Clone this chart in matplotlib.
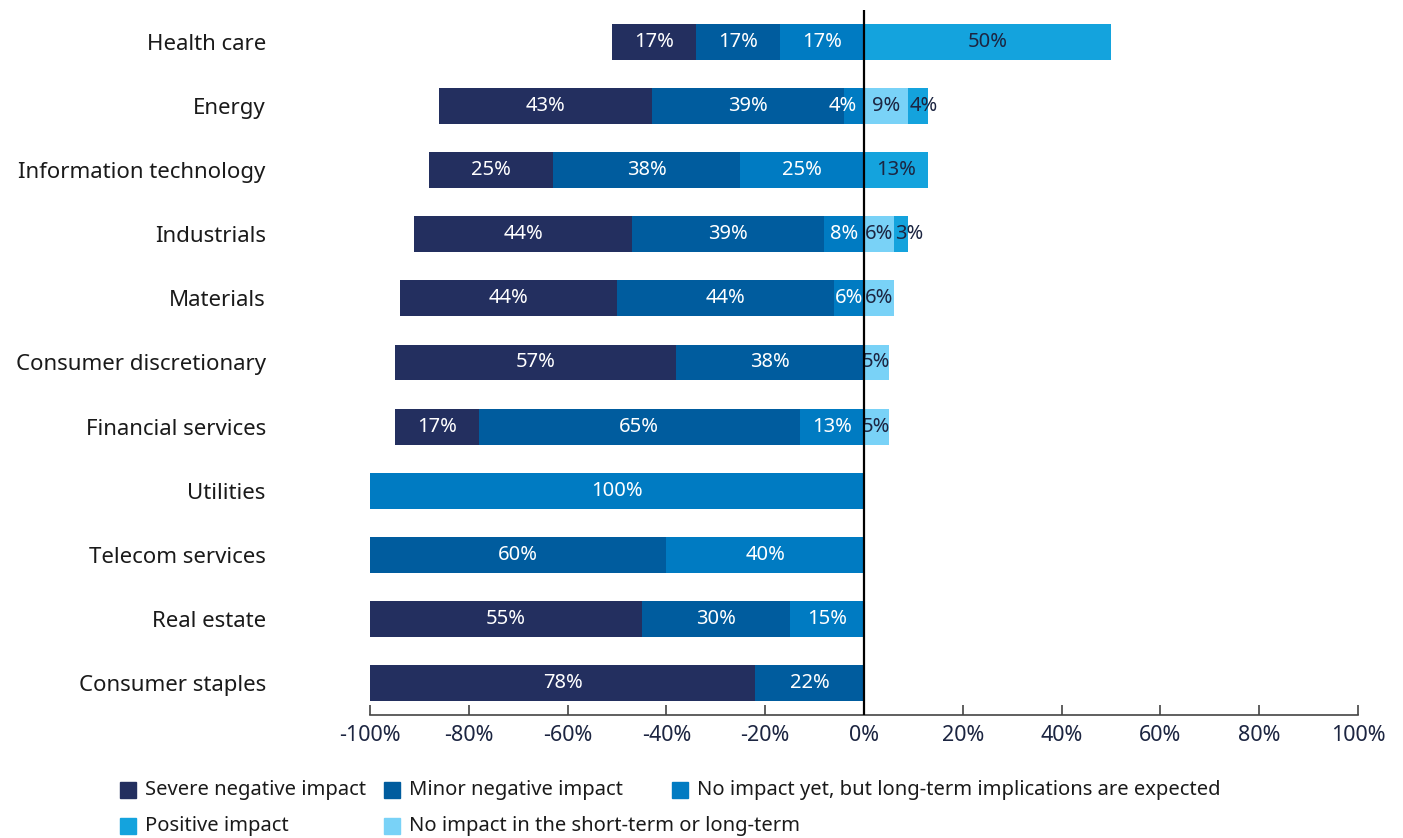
import numpy as np
import matplotlib.pyplot as plt
from matplotlib.patches import Rectangle

# --------------------
# Data (percent of respondents per sector)
# --------------------
sectors = ["Health care", "Energy", "Information technology", "Industrials",
           "Materials", "Consumer discretionary", "Financial services",
           "Utilities", "Telecom services", "Real estate", "Consumer staples"]

severe_neg = [17, 43, 25, 44, 44, 57, 17, 0, 0, 55, 78]
minor_neg = [17, 39, 38, 39, 44, 38, 65, 0, 60, 30, 22]
long_term = [17, 4, 25, 8, 6, 0, 13, 100, 40, 15, 0]
no_impact = [0, 9, 0, 6, 6, 5, 5, 0, 0, 0, 0]
positive = [50, 4, 13, 3, 0, 0, 0, 0, 0, 0, 0]

series_names = ["Severe negative impact", "Minor negative impact",
                "No impact yet, but long-term implications are expected",
                "Positive impact", "No impact in the short-term or long-term"]

xticks = [-100, -80, -60, -40, -20, 0, 20, 40, 60, 80, 100]

# --------------------
# Style
# --------------------
C_SEVERE = "#232f5f"
C_MINOR = "#005c9e"
C_LONG = "#007bc2"
C_POS = "#14a3dd"
C_NONE = "#79d2f7"
DARK_TXT = "#1c2541"
FONT = "Noto Sans"
LBL_SIZE = 14.5

plt.rcParams['font.family'] = [FONT, 'DejaVu Sans']

fig = plt.figure(figsize=(14.03, 8.38), dpi=100)
ax = fig.add_axes([0.2637, 0.1468, 0.7042, 0.8413])

y = np.arange(len(sectors))
h = 0.56


def draw_segments(lefts, widths, color, txt_color, side):
    ax.barh(y, widths, left=lefts, height=h, color=color, zorder=2)
    for yi, l, w in zip(y, lefts, widths):
        if w <= 0:
            continue
        # narrow segments: keep the label clear of the zero line / neighbours
        if w <= 4 and side == "neg":
            ax.text(l + w - 1.4, yi, f"{w}%", ha="right", va="center",
                    color=txt_color, fontsize=LBL_SIZE, zorder=3)
        elif w <= 4:
            ax.text(l + 0.2, yi, f"{w}%", ha="left", va="center",
                    color=txt_color, fontsize=LBL_SIZE, zorder=3)
        else:
            ax.text(l + w / 2, yi, f"{w}%", ha="center", va="center",
                    color=txt_color, fontsize=LBL_SIZE, zorder=3)


sev = np.array(severe_neg)
mnr = np.array(minor_neg)
lng = np.array(long_term)
non = np.array(no_impact)
pos = np.array(positive)

# negative side stacks leftward from zero
draw_segments(-(sev + mnr + lng), sev, C_SEVERE, "white", "neg")
draw_segments(-(mnr + lng), mnr, C_MINOR, "white", "neg")
draw_segments(-lng, lng, C_LONG, "white", "neg")
# positive side stacks rightward from zero
draw_segments(np.zeros(len(y)), non, C_NONE, DARK_TXT, "pos")
draw_segments(non, pos, C_POS, DARK_TXT, "pos")

ax.axvline(0, color="black", lw=1.6, zorder=4)

ax.set_xlim(-100, 100)
ax.set_ylim(10.5, -0.5)
ax.set_yticks(y)
ax.set_yticklabels(sectors, fontsize=16, color="#1a1a1a")
ax.set_xticks(xticks)
ax.set_xticklabels([f"{t}%" for t in xticks], fontsize=15.5, color=DARK_TXT)
ax.tick_params(axis="y", length=0, pad=75)
ax.tick_params(axis="x", direction="in", length=7, width=1.2, color="#444444", pad=7)
for s in ["top", "right", "left"]:
    ax.spines[s].set_visible(False)
ax.spines["bottom"].set_color("#444444")
ax.spines["bottom"].set_linewidth(1.2)

# --------------------
# Legend (flow layout, two rows)
# --------------------
W, H = 1403, 838
legend_pos = [(120, 790), (120, 826), (384, 790), (384, 826), (672, 790)]
legend_order = [0, 3, 1, 4, 2]
legend_cols = [C_SEVERE, C_MINOR, C_LONG, C_POS, C_NONE]
for (px, py), idx in zip(legend_pos, legend_order):
    fig.patches.append(Rectangle((px / W, 1 - (py + 8) / H), 16 / W, 16 / H,
                                 transform=fig.transFigure, color=legend_cols[idx]))
    fig.text((px + 25) / W, 1 - py / H, series_names[idx], fontsize=14.5,
             va="center", ha="left", color="#1a1a1a")

fig.savefig("out.png", dpi=100)
